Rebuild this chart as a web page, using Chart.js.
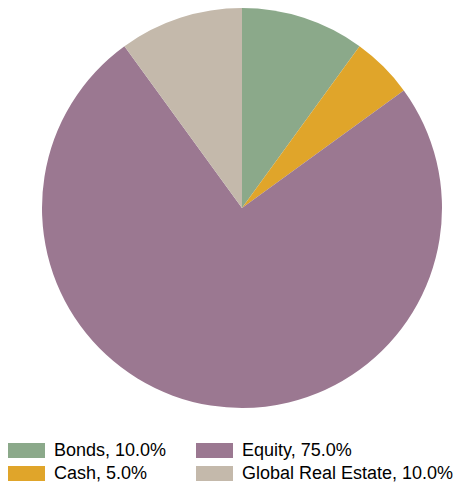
<!DOCTYPE html>
<html>
<head>
<meta charset="utf-8">
<script src="https://cdn.jsdelivr.net/npm/chart.js@4"></script>
<style>
  body { margin: 0; background: #fff; font-family: "Liberation Sans", Arial, sans-serif; }
  #wrap { position: relative; width: 458px; height: 485px; }
  #box { position: absolute; left: 0; top: 0; width: 458px; height: 416px; }
  #legend { position: absolute; left: 0; top: 440px; width: 458px; }
  .item { position: absolute; display: flex; align-items: center; font-size: 18px; color: #000; white-space: nowrap; }
  .swatch { width: 37px; height: 15px; margin-right: 9px; }
</style>
</head>
<body>
<div id="wrap">
  <div id="box"><canvas id="chart"></canvas></div>
  <div id="legend"></div>
</div>
<script>
const labels = ['Bonds', 'Cash', 'Equity', 'Global Real Estate'];
const values = [10.0, 5.0, 75.0, 10.0];
const colors = ['#8ba98a', '#e0a52a', '#9b7891', '#c4b9ab'];

const chart = document.querySelector('#chart').getContext('2d');

new Chart(chart, {
    type: 'pie',
    data: {
        labels: labels,
        datasets: [{
            data: values,
            backgroundColor: colors,
            borderWidth: 0
        }]
    },
    options: {
        responsive: true,
        maintainAspectRatio: false,
        animation: false,
        layout: { padding: { left: 42, right: 16, top: 8, bottom: 8 } },
        plugins: {
            legend: { display: false },
            tooltip: { enabled: false }
        }
    }
});

// legend laid out column by column, like the original
const legend = document.querySelector('#legend');
const pos = [[8, 0], [8, 23], [196, 0], [196, 23]];
labels.forEach((name, i) => {
    const item = document.createElement('div');
    item.className = 'item';
    item.style.left = pos[i][0] + 'px';
    item.style.top = pos[i][1] + 'px';
    item.innerHTML = '<span class="swatch" style="background:' + colors[i] + '"></span>' +
        name + ', ' + values[i].toFixed(1) + '%';
    legend.appendChild(item);
});
</script>
</body>
</html>
